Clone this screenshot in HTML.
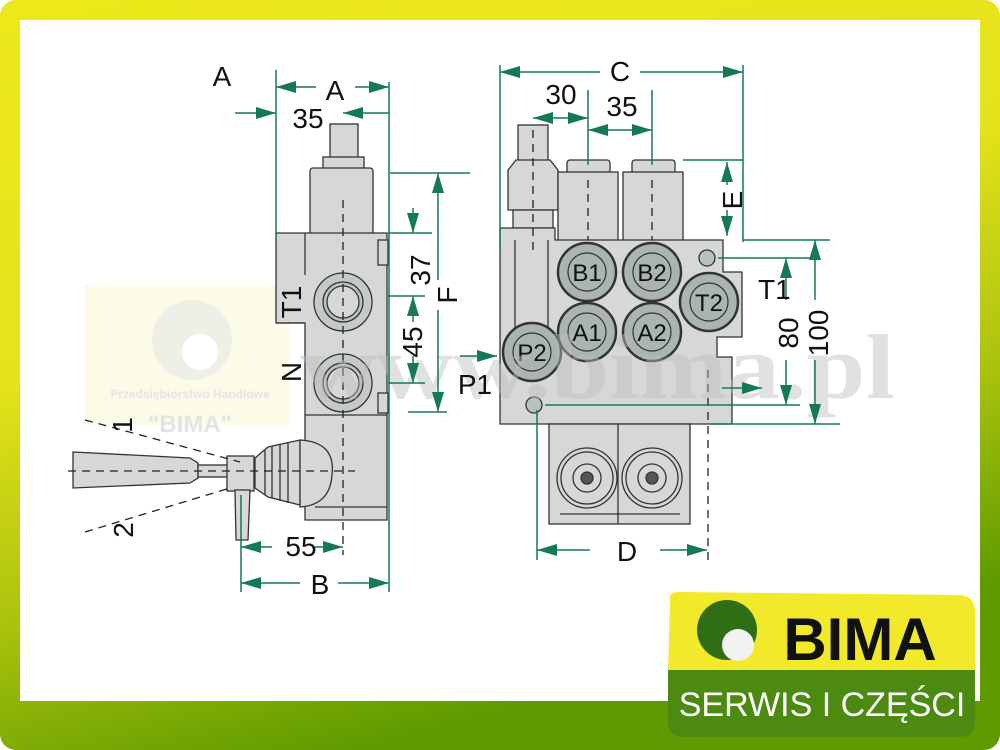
<!DOCTYPE html>
<html><head><meta charset="utf-8"><style>
html,body{margin:0;padding:0;width:1000px;height:750px;overflow:hidden;background:#fff}
</style></head><body>
<svg width="1000" height="750" viewBox="0 0 1000 750" xmlns="http://www.w3.org/2000/svg" font-family="Liberation Sans, sans-serif">
<defs>
<linearGradient id="bg" x1="0" y1="0" x2="0.35" y2="1">
<stop offset="0" stop-color="#ece81a"/><stop offset="0.45" stop-color="#e6e31b"/><stop offset="0.75" stop-color="#a9c20c"/><stop offset="1" stop-color="#5f9b00"/>
</linearGradient>
<marker id="ar" viewBox="0 0 20 12" refX="20" refY="6" markerWidth="20" markerHeight="12" orient="auto-start-reverse" markerUnits="userSpaceOnUse"><path d="M0,0 L20,6 L0,12 z" fill="#15785a"/></marker>
</defs>
<rect x="0" y="0" width="1000" height="750" rx="16" fill="url(#bg)"/>
<rect x="20" y="20" width="960" height="681" fill="#fff"/>

<!-- watermark box -->
<rect x="85" y="285" width="205" height="140" fill="#fbfbe8"/>
<circle cx="192" cy="340" r="40" fill="#eef0e8"/><circle cx="200" cy="352" r="18" fill="#fff"/>
<text x="190" y="398" font-size="12" font-weight="bold" fill="#e4e4e4" text-anchor="middle">Przedsiębiorstwo Handlowe</text>
<text x="190" y="432" font-size="24" font-weight="bold" fill="#e4e4e4" text-anchor="middle">"BIMA"</text>

<g stroke="#333" stroke-width="1.3" fill="#d5d8d5">
<!-- LEFT VIEW -->
<rect x="330" y="124" width="28" height="34"/>
<rect x="323" y="157" width="41" height="13"/>
<rect x="310" y="168" width="63" height="66" rx="3"/>
<path d="M276,233 H387 V520 H305 V415 H305 V323 H276 Z"/>
<rect x="378" y="240" width="10" height="25"/>
<rect x="378" y="393" width="10" height="20"/>
<line x1="305" y1="415" x2="387" y2="415"/>
<line x1="305" y1="323" x2="276" y2="323" />
<line x1="305" y1="233" x2="305" y2="275"/>
<circle cx="343" cy="302" r="29" fill="#c5cac6"/><circle cx="343" cy="302" r="20" fill="#bcc2bd"/><circle cx="343" cy="302" r="16"/>
<circle cx="343" cy="383" r="29" fill="#c5cac6"/><circle cx="343" cy="383" r="20" fill="#bcc2bd"/><circle cx="343" cy="383" r="16"/>
<line x1="315" y1="507" x2="387" y2="507"/>
<!-- handle -->
<path d="M73,452 L190,458 L198,463 V478 L190,483 L73,488 Z"/>
<rect x="198" y="465" width="30" height="12"/>
<rect x="227" y="456" width="27" height="35"/>
<path d="M235,490 H250 L248,540 H236 Z"/>
<path d="M255,458 L268,447 L300,440 V505 L268,497 L255,488 Z"/>
<path d="M300,440 Q336,442 332,475 Q330,505 300,507 Z"/>
<line x1="265" y1="450" x2="265" y2="495"/><line x1="272" y1="446" x2="272" y2="498"/><line x1="280" y1="444" x2="280" y2="501"/><line x1="288" y1="442" x2="288" y2="503"/>

<!-- RIGHT VIEW -->
<rect x="518" y="125" width="30" height="36"/>
<path d="M508,170 L516,160 H550 L558,170 V210 H508 Z"/>
<rect x="513" y="210" width="40" height="18"/>
<rect x="567" y="160" width="43" height="14" rx="3"/>
<rect x="558" y="172" width="60" height="70"/>
<rect x="632" y="160" width="43" height="14" rx="3"/>
<rect x="623" y="172" width="60" height="70"/>
<path d="M500,228 H555 V240 H723 V272 H742 V337 H717 V357 H732 V424 H500 Z"/>
<line x1="515" y1="240" x2="515" y2="360"/><line x1="548" y1="240" x2="548" y2="330"/>
<rect x="549" y="424" width="141" height="100"/>
<line x1="618" y1="424" x2="618" y2="524"/>
<line x1="560" y1="514" x2="680" y2="514"/>
<circle cx="587" cy="478" r="30"/><circle cx="587" cy="478" r="26"/><circle cx="587" cy="478" r="14"/><circle cx="587" cy="478" r="6" fill="#555"/>
<circle cx="652" cy="478" r="30"/><circle cx="652" cy="478" r="26"/><circle cx="652" cy="478" r="14"/><circle cx="652" cy="478" r="6" fill="#555"/>
<g fill="#a9b5ae" stroke-width="2.5">
<circle cx="587" cy="272" r="29"/><circle cx="652" cy="272" r="29"/><circle cx="587" cy="332" r="29"/><circle cx="652" cy="332" r="29"/><circle cx="709" cy="302" r="29"/><circle cx="532" cy="352" r="29"/>
</g>
<g fill="none" stroke-width="1.2">
<circle cx="587" cy="272" r="19"/><circle cx="652" cy="272" r="19"/><circle cx="587" cy="332" r="19"/><circle cx="652" cy="332" r="19"/><circle cx="709" cy="302" r="19"/><circle cx="532" cy="352" r="19"/>
</g>
<circle cx="707" cy="258" r="8" fill="#b8c2bc"/><circle cx="534" cy="405" r="8" fill="#b8c2bc"/>
</g>
<g font-size="24" fill="#111" text-anchor="middle">
<text x="587" y="281">B1</text><text x="652" y="281">B2</text><text x="587" y="341">A1</text><text x="652" y="341">A2</text><text x="709" y="311">T2</text><text x="532" y="361">P2</text>
</g>

<!-- dashed center lines -->
<g stroke="#222" stroke-width="1.3" stroke-dasharray="8,6" fill="none">
<line x1="343" y1="200" x2="343" y2="555"/>
<line x1="68" y1="471" x2="355" y2="471"/>
<line x1="85" y1="420" x2="240" y2="462"/>
<line x1="85" y1="532" x2="230" y2="488"/>
<line x1="533" y1="130" x2="533" y2="250"/>
<line x1="588" y1="180" x2="588" y2="240"/>
<line x1="652" y1="180" x2="652" y2="240"/>
<line x1="708" y1="370" x2="708" y2="560"/>
</g>

<!-- watermark text -->
<text x="300" y="398" font-family="Liberation Serif, serif" font-size="92" font-weight="bold" fill="#bdbdbd" opacity="0.45" textLength="595" lengthAdjust="spacingAndGlyphs">www.bima.pl</text>

<!-- dimensions -->
<g stroke="#15785a" stroke-width="1.5" fill="none">
<line x1="276" y1="70" x2="276" y2="235"/>
<line x1="389" y1="82" x2="389" y2="592"/>
<line x1="276" y1="87" x2="316" y2="87" marker-start="url(#ar)"/>
<line x1="355" y1="87" x2="389" y2="87" marker-end="url(#ar)"/>
<line x1="235" y1="113" x2="276" y2="113" marker-end="url(#ar)"/>
<line x1="389" y1="113" x2="343" y2="113" marker-end="url(#ar)"/>
<line x1="390" y1="173" x2="470" y2="173"/>
<line x1="388" y1="233" x2="432" y2="233"/>
<line x1="388" y1="296" x2="425" y2="296"/>
<line x1="388" y1="383" x2="425" y2="383"/>
<line x1="408" y1="412" x2="447" y2="412"/>
<line x1="413" y1="208" x2="413" y2="233" marker-end="url(#ar)"/>
<line x1="413" y1="322" x2="413" y2="296" marker-end="url(#ar)"/>
<line x1="413" y1="356" x2="413" y2="383" marker-end="url(#ar)"/>
<line x1="438" y1="280" x2="438" y2="173" marker-end="url(#ar)"/>
<line x1="438" y1="310" x2="438" y2="412" marker-end="url(#ar)"/>
<line x1="241" y1="495" x2="241" y2="592"/>
<line x1="272" y1="547" x2="241" y2="547" marker-end="url(#ar)"/>
<line x1="315" y1="547" x2="343" y2="547" marker-end="url(#ar)"/>
<line x1="300" y1="583" x2="241" y2="583" marker-end="url(#ar)"/>
<line x1="338" y1="583" x2="389" y2="583" marker-end="url(#ar)"/>
<!-- right -->
<line x1="500" y1="65" x2="500" y2="250"/>
<line x1="743" y1="65" x2="743" y2="242"/>
<line x1="600" y1="72" x2="500" y2="72" marker-end="url(#ar)"/>
<line x1="640" y1="72" x2="743" y2="72" marker-end="url(#ar)"/>
<line x1="588" y1="90" x2="588" y2="165"/>
<line x1="652" y1="90" x2="652" y2="165"/>
<line x1="533" y1="118" x2="588" y2="118" marker-start="url(#ar)" marker-end="url(#ar)"/>
<line x1="588" y1="130" x2="652" y2="130" marker-start="url(#ar)" marker-end="url(#ar)"/>
<line x1="683" y1="160" x2="743" y2="160"/>
<line x1="727" y1="185" x2="727" y2="162" marker-end="url(#ar)"/>
<line x1="727" y1="210" x2="727" y2="236" marker-end="url(#ar)"/>
<line x1="743" y1="240" x2="830" y2="240"/>
<line x1="718" y1="258" x2="810" y2="258"/>
<line x1="786" y1="300" x2="786" y2="258" marker-end="url(#ar)"/>
<line x1="786" y1="360" x2="786" y2="405" marker-end="url(#ar)"/>
<line x1="815" y1="300" x2="815" y2="240" marker-end="url(#ar)"/>
<line x1="815" y1="360" x2="815" y2="424" marker-end="url(#ar)"/>
<line x1="545" y1="405" x2="800" y2="405"/>
<line x1="710" y1="424" x2="840" y2="424"/>
<line x1="722" y1="388" x2="762" y2="388" marker-end="url(#ar)"/>
<line x1="460" y1="356" x2="497" y2="356" marker-end="url(#ar)"/>
<line x1="537" y1="410" x2="537" y2="560"/>
<line x1="590" y1="550" x2="537" y2="550" marker-end="url(#ar)"/>
<line x1="660" y1="550" x2="707" y2="550" marker-end="url(#ar)"/>
</g>

<g font-size="28" fill="#111" text-anchor="middle">
<text x="222" y="86">A</text>
<text x="335" y="100">A</text>
<text x="308" y="128">35</text>
<text x="301" y="556">55</text>
<text x="320" y="594">B</text>
<text x="620" y="81">C</text>
<text x="561" y="104">30</text>
<text x="622" y="116">35</text>
<text x="758" y="299" text-anchor="start">T1</text>
<text x="475" y="394">P1</text>
<text x="627" y="561">D</text>
<text transform="translate(430,270) rotate(-90)">37</text>
<text transform="translate(422,342) rotate(-90)">45</text>
<text transform="translate(457,295) rotate(-90)">F</text>
<text transform="translate(301,302) rotate(-90)">T1</text>
<text transform="translate(301,372) rotate(-90)">N</text>
<text transform="translate(132,425) rotate(-90)">1</text>
<text transform="translate(133,530) rotate(-90)">2</text>
<text transform="translate(742,200) rotate(-90)">E</text>
<text transform="translate(798,333) rotate(-90)">80</text>
<text transform="translate(828,333) rotate(-90)">100</text>
</g>

<!-- logo -->
<path d="M670,600 Q668,592 680,592 L960,595 Q975,596 975,612 V672 H668 Z" fill="#f2e92a"/>
<path d="M668,670 H975 V722 Q975,737 960,737 H685 Q668,737 668,722 Z" fill="#4d8a12"/>
<circle cx="727" cy="630" r="30" fill="#2f6e14"/>
<circle cx="738" cy="645" r="16" fill="#f2f2f2"/>
<text x="860" y="660" font-size="60" font-weight="bold" fill="#111" text-anchor="middle">BIMA</text>
<text x="822" y="716" font-size="34" fill="#fff" text-anchor="middle">SERWIS I CZĘŚCI</text>
</svg>
</body></html>
